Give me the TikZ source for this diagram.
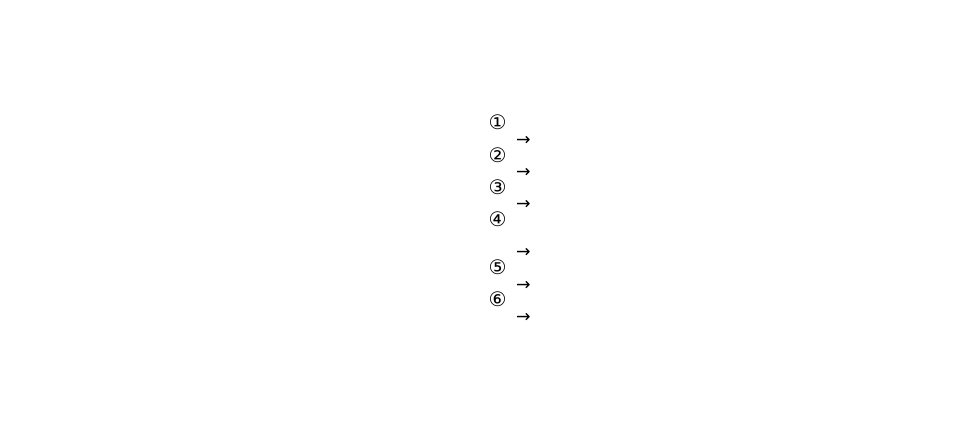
\documentclass[tikz,border=0pt]{standalone}
\usepackage{fontspec}
\newfontfamily\symfont{DejaVu Sans}

\begin{document}
\begin{tikzpicture}[x=0.75pt,y=0.75pt,yscale=-1,xscale=1,
  numlabel/.style={font=\symfont\fontsize{15pt}{15pt}\selectfont, inner sep=0pt},
  arrowlabel/.style={font=\symfont\fontsize{13pt}{13pt}\selectfont, inner sep=0pt}]
\useasboundingbox (0,0) rectangle (954,440);

% Text Node
\draw (497.5,122) node [numlabel] (n1) {①};
% Text Node
\draw (523.5,141) node [arrowlabel] (a1) {→};
% Text Node
\draw (497.5,155) node [numlabel] (n2) {②};
% Text Node
\draw (523.5,173) node [arrowlabel] (a2) {→};
% Text Node
\draw (497.5,187) node [numlabel] (n3) {③};
% Text Node
\draw (523.5,205) node [arrowlabel] (a3) {→};
% Text Node
\draw (497.5,219) node [numlabel] (n4) {④};
% Text Node
\draw (523.5,253) node [arrowlabel] (a4) {→};
% Text Node
\draw (497.5,267) node [numlabel] (n5) {⑤};
% Text Node
\draw (523.5,286) node [arrowlabel] (a5) {→};
% Text Node
\draw (497.5,299) node [numlabel] (n6) {⑥};
% Text Node
\draw (523.5,318) node [arrowlabel] (a6) {→};

\end{tikzpicture}
\end{document}
